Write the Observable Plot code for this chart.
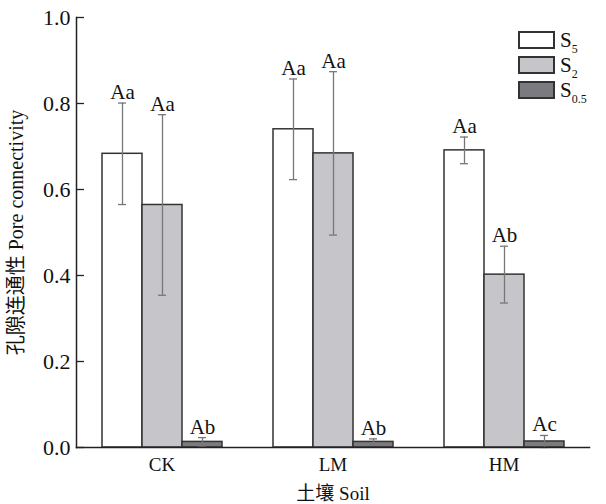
<!DOCTYPE html>
<html><head><meta charset="utf-8">
<script src="https://cdn.jsdelivr.net/npm/d3@7"></script>
<script src="https://cdn.jsdelivr.net/npm/@observablehq/plot@0.6"></script>
<style>
body{margin:0;background:#fff;}
#wrap{position:relative;width:606px;height:504px;font-family:"Liberation Serif","Noto Sans CJK SC",serif;}
#wrap svg{position:absolute;left:0;top:0;}
#legend{position:absolute;left:518px;top:27px;}
.item{display:flex;align-items:center;height:25px;}
.sw{width:33px;height:14px;border:2px solid #333;margin-right:5px;box-sizing:content-box;}
.lab{font-size:21px;color:#111;line-height:20px;}
.lab sub{font-size:12px;vertical-align:-6px;line-height:0;}
</style></head><body><div id="wrap"><div id="legend"></div></div>
<script>
const soils = ["CK", "LM", "HM"];
const series = ["S5", "S2", "S0.5"];
const seriesSub = ["5", "2", "0.5"];
const meanS5 = [0.683, 0.740, 0.691];
const sdS5 = [0.118, 0.117, 0.031];
const meanS2 = [0.564, 0.684, 0.402];
const sdS2 = [0.210, 0.190, 0.066];
const meanS05 = [0.013, 0.013, 0.014];
const sdS05 = [0.010, 0.007, 0.014];
const lettersS5 = ["Aa", "Aa", "Aa"];
const lettersS2 = ["Aa", "Aa", "Ab"];
const lettersS05 = ["Ab", "Ab", "Ac"];
const yTicks = [0, 0.2, 0.4, 0.6, 0.8, 1.0];
const colors = ["#ffffff", "#c6c6ca", "#7b7b7f"];

const rows = [];
soils.forEach((s, i) => {
  rows.push({soil: s, series: "S5", mean: meanS5[i], sd: sdS5[i], letter: lettersS5[i]});
  rows.push({soil: s, series: "S2", mean: meanS2[i], sd: sdS2[i], letter: lettersS2[i]});
  rows.push({soil: s, series: "S0.5", mean: meanS05[i], sd: sdS05[i], letter: lettersS05[i]});
});

const font = '"Liberation Serif","Noto Sans CJK SC",serif';
const chart = Plot.plot({
  width: 606, height: 504,
  marginLeft: 76, marginRight: 0, marginTop: 17, marginBottom: 57,
  style: {fontFamily: font, fontSize: "19px", color: "#111", background: "transparent"},
  fx: {domain: soils, paddingInner: 0, paddingOuter: 0.0497, align: 0,
       label: "土壤 Soil", labelAnchor: "center", labelOffset: 52, labelArrow: "none",
       tickSize: 0, tickPadding: 10},
  x: {domain: series, paddingInner: 0, paddingOuter: 0.6375, axis: null},
  y: {domain: [0, 1]},
  color: {domain: series, range: colors},
  marks: [
    Plot.barY(rows, {fx: "soil", x: "series", y: "mean", fill: "series", stroke: "#333", strokeWidth: 1.5}),
    Plot.ruleX(rows, {fx: "soil", x: "series", y1: d => Math.max(0, d.mean - d.sd), y2: d => d.mean + d.sd, stroke: "#777", strokeWidth: 1.3}),
    Plot.tickY(rows, {fx: "soil", x: "series", y: d => d.mean + d.sd, stroke: "#777", strokeWidth: 1.3, inset: 16}),
    Plot.tickY(rows, {fx: "soil", x: "series", y: d => Math.max(0, d.mean - d.sd), stroke: "#777", strokeWidth: 1.3, inset: 16}),
    Plot.text(rows, {fx: "soil", x: "series", y: d => d.mean + d.sd, text: "letter", dy: -4, lineAnchor: "bottom", fontSize: 21, fill: "#111"}),
    Plot.axisY({ticks: yTicks, tickFormat: ".1f", tickSize: -8, tickPadding: 14, fontSize: 22, label: null, stroke: "#222", strokeWidth: 1.3}),
    Plot.axisY({ticks: [], label: "孔隙连通性 Pore connectivity", labelAnchor: "center", labelOffset: 68, labelArrow: "none", fontSize: 20}),
    Plot.frame({anchor: "bottom", facet: "super", stroke: "#222", strokeWidth: 1.5}),
    Plot.frame({anchor: "left", facet: "super", stroke: "#222", strokeWidth: 1.5})
  ]
});
const wrap = document.getElementById("wrap");
wrap.insertBefore(chart, wrap.firstChild);

const legend = document.getElementById("legend");
series.forEach((s, i) => {
  const item = document.createElement("div");
  item.className = "item";
  const sw = document.createElement("div");
  sw.className = "sw";
  sw.style.background = colors[i];
  const lab = document.createElement("div");
  lab.className = "lab";
  lab.innerHTML = "S<sub>" + seriesSub[i] + "</sub>";
  item.appendChild(sw); item.appendChild(lab);
  legend.appendChild(item);
});
</script>
</body></html>
